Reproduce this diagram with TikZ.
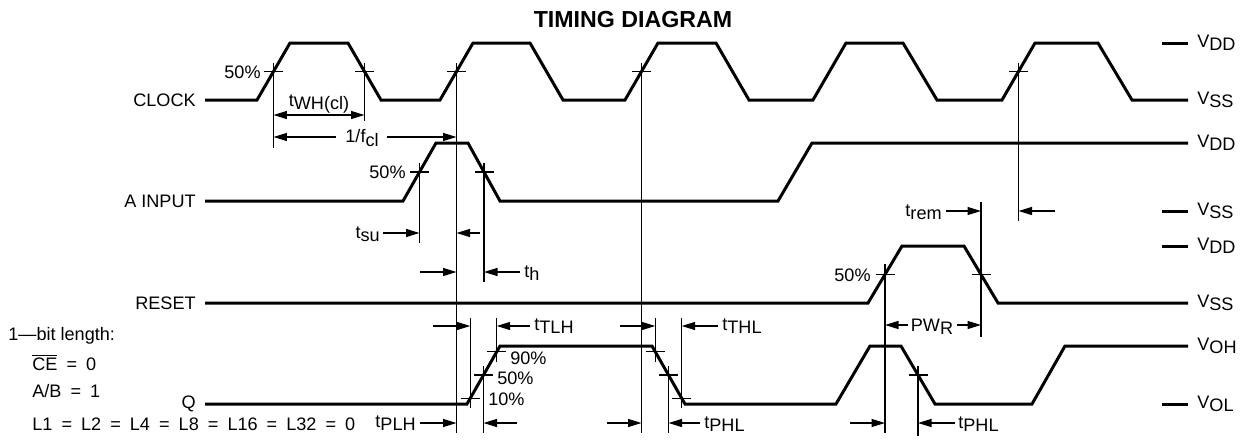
\documentclass[tikz,border=0pt]{standalone}
\usepackage{fontspec}
\setmainfont{Liberation Sans}
\usepackage{tikz}
\usetikzlibrary{arrows.meta}
\tikzstyle{wave}  = [line width=1.7pt, line join=miter]
\tikzstyle{guide} = [line width=0.75pt]
\tikzstyle{dim}   = [line width=0.75pt, -{Triangle[length=0.27cm,width=0.16cm]}]
\tikzstyle{dimboth} = [line width=0.75pt, {Triangle[length=0.27cm,width=0.16cm]}-{Triangle[length=0.27cm,width=0.16cm]}]
\newcommand{\lo}[1]{\raisebox{-0.35ex}{#1}}

\begin{document}
\begin{tikzpicture}[x=0.02cm, y=-0.02cm, font=\fontsize{10.3}{12}\selectfont,
			lbl/.style={inner sep=0pt},
			sig/.style={lbl, anchor=east},
			lvl/.style={lbl, anchor=west},
			note/.style={lbl, anchor=base west, execute at begin node={\spaceskip=0.5em\relax}}]

		\useasboundingbox (0,0) rectangle (1242,441);

		\node[font=\fontsize{13.2}{15}\selectfont\bfseries] (title) at (633,20) {TIMING DIAGRAM};

		\node[sig] (clk) at (196,100) {CLOCK};
		\node[sig] (ain) at (196,201) {A INPUT};
		\node[sig] (rst) at (196,303) {RESET};
		\node[sig] (q)   at (196,404) {Q};

		\draw[wave] (205,100) -- (257,100) -- (290,43) -- (348,43) -- (381,100) -- (440,100) -- (473,43) -- (530,43) -- (563,100)
			-- (625,100) -- (658,43) -- (716,43) -- (749,100) -- (813,100) -- (846,43) -- (903,43) -- (937,100)
			-- (1002,100) -- (1035,43) -- (1098,43) -- (1132,100) -- (1188,100);
		\draw[wave] (205,201) -- (403,201) -- (436,143) -- (468,143) -- (500,201) -- (778,201) -- (812,143) -- (1188,143);
		\draw[wave] (205,303) -- (868,303) -- (902,246) -- (964,246) -- (998,303) -- (1188,303);
		\draw[wave] (205,404) -- (467,404) -- (500,346) -- (652,346) -- (685,404) -- (836,404) -- (870,346) -- (901,346)
			-- (935,404) -- (1032,404) -- (1065,346) -- (1188,346);

		\foreach \y in {43,211,246,404}
			\draw[wave] (1162,\y) -- (1188,\y);

		\node[lvl] (vddc) at (1197,43)  {V\lo{DD}};
		\node[lvl] (vssc) at (1197,100) {V\lo{SS}};
		\node[lvl] (vdda) at (1197,143) {V\lo{DD}};
		\node[lvl] (vssa) at (1197,211) {V\lo{SS}};
		\node[lvl] (vddr) at (1197,246) {V\lo{DD}};
		\node[lvl] (vssr) at (1197,303) {V\lo{SS}};
		\node[lvl] (voh)  at (1197,346) {V\lo{OH}};
		\node[lvl] (vol)  at (1197,404) {V\lo{OL}};

		\foreach \x/\y in {273.5/71.5, 364.5/71.5, 456.5/71.5, 641.5/71.5, 1018.5/71.5, 419.5/172, 484/172, 885/274.5, 981/274.5,
				470.3/398.2, 483.5/375, 496.7/351.8, 655.3/351.8, 668.5/375, 681.7/398.2, 918/375}
			\draw[guide] (\x-9.5,\y) -- (\x+9.5,\y);

		\draw[guide] (273.5,63) -- (273.5,148);
		\draw[guide] (364.5,63) -- (364.5,121);
		\draw[guide] (456.5,63) -- (456.5,433);
		\draw[guide] (641.5,63) -- (641.5,433);
		\draw[guide] (1018.5,63) -- (1018.5,221);
		\draw[guide] (419.5,163) -- (419.5,243);
		\draw[guide] (484,163) -- (484,282);
		\draw[guide] (885,264) -- (885,433);
		\draw[guide] (981,202) -- (981,337);
		\draw[guide] (470.3,318) -- (470.3,408);
		\draw[guide] (483.5,366) -- (483.5,433);
		\draw[guide] (496.7,318) -- (496.7,362);
		\draw[guide] (655.3,318) -- (655.3,362);
		\draw[guide] (668.5,366) -- (668.5,433);
		\draw[guide] (681.7,318) -- (681.7,408);
		\draw[guide] (918,366) -- (918,436);

		\node[lbl, anchor=east] (p50c) at (261,72)  {50\%};
		\node[lbl, anchor=east] (p50a) at (406,172) {50\%};
		\node[lbl, anchor=east] (p50r) at (871,275) {50\%};
		\node[lbl, anchor=west] (p90q) at (510,358) {90\%};
		\node[lbl, anchor=west] (p50q) at (497,378) {50\%};
		\node[lbl, anchor=west] (p10q) at (488,399) {10\%};

		\draw[dimboth] (273.5,115) -- (364.5,115);
		\node[lbl] (twh) at (319,104) {t\lo{WH(cl)}};
		\draw[dim] (336,137) -- (273.5,137);
		\draw[dim] (387,137) -- (456.5,137);
		\node[lbl] (fcl) at (362,138) {1/f\lo{cl}};

		\node[lbl, anchor=east] (tsu) at (380,234) {t\lo{su}};
		\draw[dim] (383,233) -- (419.5,233);
		\draw[dim] (480,233) -- (456.5,233);
		\draw[dim] (420,272) -- (456.5,272);
		\draw[dim] (520,272) -- (484,272);
		\node[lbl, anchor=west] (th) at (524,273) {t\lo{h}};

		\node[lbl, anchor=east] (trem) at (942,212) {t\lo{rem}};
		\draw[dim] (946,211) -- (981,211);
		\draw[dim] (1055,211) -- (1018.5,211);
		\draw[dim] (908,325) -- (885,325);
		\draw[dim] (957,325) -- (981,325);
		\node[lbl] (pwr) at (932,327) {PW\lo{R}};

		\draw[dim] (433,326) -- (470.3,326);
		\draw[dim] (530,326) -- (496.7,326);
		\node[lbl, anchor=west] (ttlh) at (534,326) {t\lo{TLH}};
		\draw[dim] (620,326) -- (655.3,326);
		\draw[dim] (718,326) -- (681.7,326);
		\node[lbl, anchor=west] (tthl) at (722,326) {t\lo{THL}};

		\node[lbl, anchor=east] (tplh) at (416,423) {t\lo{PLH}};
		\draw[dim] (420,423) -- (456.5,423);
		\draw[dim] (517,423) -- (483.5,423);
		\draw[dim] (607,423) -- (641.5,423);
		\draw[dim] (700,423) -- (668.5,423);
		\node[lbl, anchor=west] (tphla) at (704,424) {t\lo{PHL}};
		\draw[dim] (850,423) -- (885,423);
		\draw[dim] (955,423) -- (918,423);
		\node[lbl, anchor=west] (tphlb) at (958,424) {t\lo{PHL}};

		\node[lbl, anchor=base west] (bits) at (8,340) {1---bit length:};
		\node[note] (ce)   at (32,370) {$\overline{\hbox{CE}}$ = 0};
		\node[note] (ab)   at (32,397) {A/B = 1};
		\node[note] (lens) at (32,430) {L1 = L2 = L4 = L8 = L16 = L32 = 0};
	\end{tikzpicture}
\end{document}
